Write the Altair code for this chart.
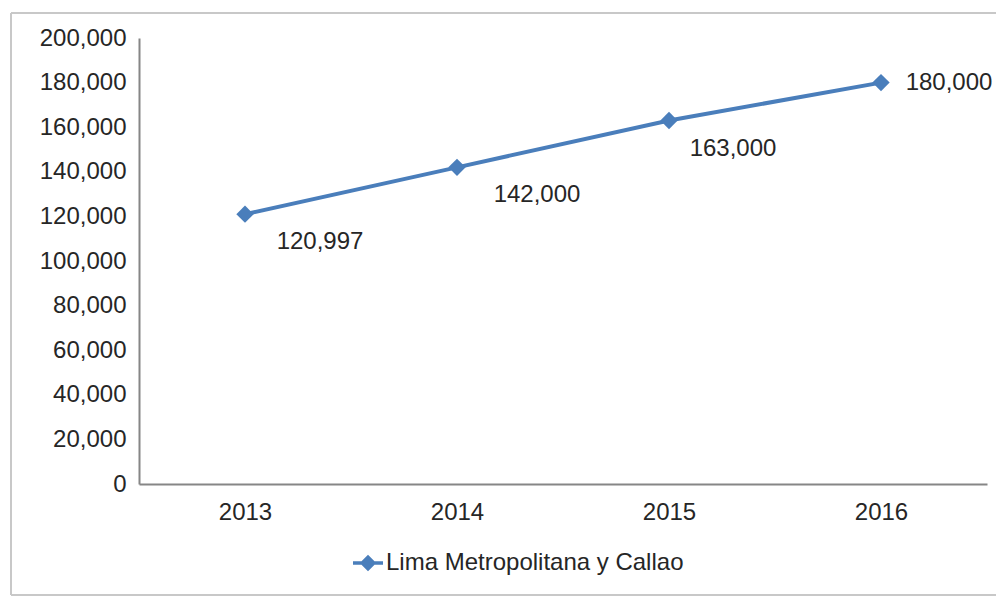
import altair as alt
import pandas as pd

years = ["2013", "2014", "2015", "2016"]
values = [120997, 142000, 163000, 180000]
series_name = "Lima Metropolitana y Callao"
y_ticks = [0, 20000, 40000, 60000, 80000, 100000, 120000, 140000, 160000, 180000, 200000]

df = pd.DataFrame({"year": years, "value": values, "series": [series_name] * len(years)})

FONT = "Liberation Sans"
BLUE = "#4A7EBB"
TXT = "#262626"

x_enc = alt.X("year:N", sort=years,
              scale=alt.Scale(type="point", padding=0.5),
              axis=alt.Axis(title=None, labelAngle=0, ticks=False, grid=False,
                            domainColor="#868686", domainWidth=2,
                            labelFontSize=24, labelFont=FONT, labelColor=TXT,
                            labelPadding=16))
y_axis = alt.Axis(title=None, values=y_ticks, ticks=False, grid=False,
                  labelExpr="format(datum.value, ',')",
                  domainColor="#868686", domainWidth=2,
                  labelFontSize=24, labelFont=FONT, labelColor=TXT,
                  labelPadding=13)
y_enc = alt.Y("value:Q", scale=alt.Scale(domain=[0, 200000], nice=False), axis=y_axis)

legend_path = ("M-1,-0.12 L1,-0.12 L1,0.12 L-1,0.12 Z "
               "M0,-0.55 L0.55,0 L0,0.55 L-0.55,0 Z")

color_enc = alt.Color("series:N",
                      scale=alt.Scale(domain=[series_name], range=[BLUE]),
                      legend=alt.Legend(title=None, orient="none", legendX=214, legendY=510,
                                        symbolType=legend_path, symbolSize=900,
                                        symbolFillColor=BLUE, symbolStrokeWidth=0,
                                        labelFontSize=24, labelFont=FONT, labelColor=TXT,
                                        labelLimit=0, labelOffset=3, padding=0))

base = alt.Chart(df)

line = base.mark_line(strokeWidth=4).encode(x=x_enc, y=y_enc, color=color_enc)
points = base.mark_point(shape="diamond", size=300, filled=True, opacity=1, color=BLUE).encode(
    x=x_enc, y=y_enc)

# label offsets (style), one per label in order of years
offsets = [(75, 28), (80, 28), (64, 28), (68, 0)]
label_layers = []
for yr, (dx, dy) in zip(years, offsets):
    label_layers.append(
        base.transform_filter(alt.datum.year == yr)
        .mark_text(fontSize=24, font=FONT, color=TXT, dx=dx, dy=dy, align="center", baseline="middle")
        .encode(x=x_enc, y=y_enc, text=alt.Text("value:Q", format=","))
    )

# decorative outer frame (left, top, bottom edges only)
frame_src = alt.Chart(alt.Data(values=[{}]))
frame_style = dict(color="#c8c8c8", strokeWidth=2)
frame_top = frame_src.mark_rule(**frame_style).encode(
    x=alt.value(-128), x2=alt.value(900), y=alt.value(-25))
frame_left = frame_src.mark_rule(**frame_style).encode(
    x=alt.value(-128), y=alt.value(-25), y2=alt.value(557))
frame_bottom = frame_src.mark_rule(**frame_style).encode(
    x=alt.value(-128), x2=alt.value(900), y=alt.value(557))

chart = alt.layer(frame_top, frame_left, frame_bottom, line, points, *label_layers).properties(
    width=848, height=446,
    padding={"left": 139, "top": 38, "right": 9, "bottom": 113},
    autosize=alt.AutoSizeParams(type="none"),
    background="white",
).configure_view(stroke=None)

chart.save("out.html", embed_options={"renderer": "svg", "actions": False})
